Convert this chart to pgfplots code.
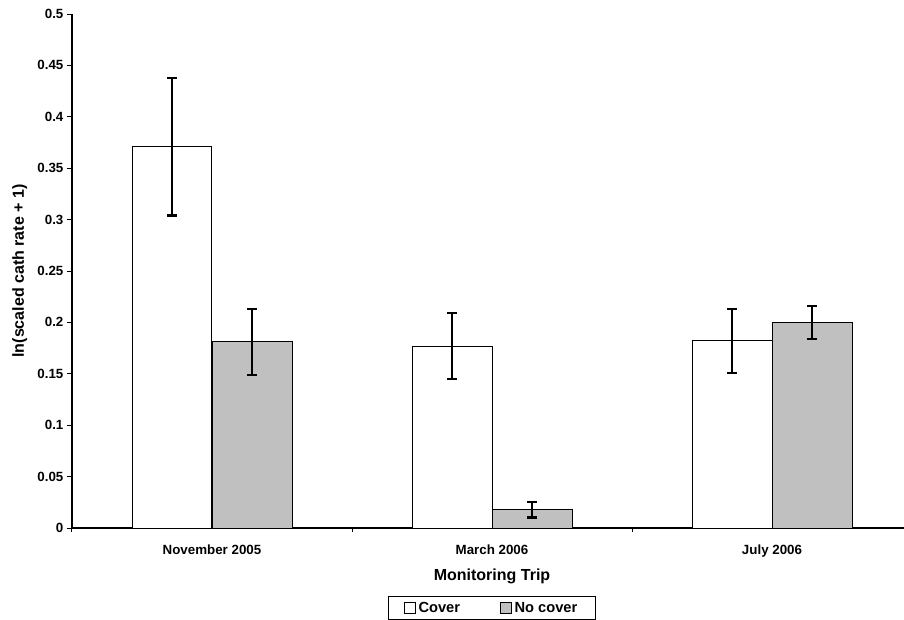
\documentclass[border=0pt]{standalone}
\usepackage{fontspec}
\setmainfont{Liberation Sans}
\usepackage{pgfplots}
\usepackage{pgfplotstable}
\pgfplotsset{compat=1.18}
\definecolor{barGray}{RGB}{192,192,192}
\pgfplotstableread{
x y err
0 0.371 0.067
1 0.177 0.032
2 0.182 0.031
}\cover
\pgfplotstableread{
x y err
0 0.181 0.032
1 0.0178 0.0076
2 0.1997 0.016
}\nocover
\begin{document}
\begin{tikzpicture}
\begin{axis}[
  scale only axis, width=624pt, height=385.5pt,
  at={(0,0)}, anchor=south west,
  xmin=-0.5, xmax=2.4714, ymin=0, ymax=0.5,
  axis x line*=bottom, axis y line*=left,
  axis line style={-, line width=0.9pt},
  /pgf/number format/assume math mode=true,
  tick align=outside,
  xtick={0,1,2},
  xticklabels={November 2005, March 2006, July 2006},
  every major x tick/.append style={draw=none},
  minor xtick={-0.5,0.5,1.5},
  minor tick length=3pt,
  major tick length=3.75pt,
  every tick/.append style={line width=0.75pt, black},
  ytick={0,0.05,0.1,0.15,0.2,0.25,0.3,0.35,0.4,0.45,0.5},
  tick label style={font=\fontsize{10}{12}\selectfont\bfseries},
  yticklabel style={/pgf/number format/fixed, /pgf/number format/precision=2, /tikz/anchor=east, /tikz/inner sep=0pt, /tikz/xshift=-2.5pt},
  xticklabel style={anchor=north, inner sep=0pt, yshift=-9pt},
  xlabel={Monitoring Trip},
  xlabel style={at={([yshift=-39pt]axis cs:1,0)}, anchor=base, font=\fontsize{12}{14}\selectfont\bfseries},
  ylabel={ln(scaled cath rate + 1)},
  ylabel style={at={([xshift=-36pt]axis cs:-0.5,0.25)}, anchor=base, font=\fontsize{12}{14}\selectfont\bfseries},
  legend columns=2,
  legend image code/.code={\draw[#1, line width=0.6pt, draw=black] (0pt,-4.1pt) rectangle (8.25pt,4.1pt);},
  legend style={at={([yshift=-51pt]axis cs:1,0)}, anchor=north, draw=black, line width=0.75pt,
    font=\fontsize{11}{13}\selectfont\bfseries, inner xsep=12pt, inner ysep=2pt,
    /tikz/every even column/.append style={column sep=28pt}},
]
\addplot[ybar, bar width=0.2857, bar shift=0pt, fill=white, draw=black, line width=0.75pt,
  error bars/.cd, y dir=both, y explicit,
  error bar style={line width=1.8pt, black},
  error mark options={rotate=90, mark size=3.4pt, line width=1.8pt, black}]
  table[x expr=\thisrow{x}-0.142857, y=y, y error=err]{\cover};
\addlegendentry{Cover}
\addplot[ybar, bar width=0.2857, bar shift=0pt, fill=barGray, draw=black, line width=0.75pt,
  error bars/.cd, y dir=both, y explicit,
  error bar style={line width=1.8pt, black},
  error mark options={rotate=90, mark size=3.4pt, line width=1.8pt, black}]
  table[x expr=\thisrow{x}+0.142857, y=y, y error=err]{\nocover};
\addlegendentry{No cover}
\end{axis}
\pgfresetboundingbox
\path[use as bounding box] (-54pt,-68.25pt) rectangle (624pt,396pt);
\end{tikzpicture}
\end{document}
